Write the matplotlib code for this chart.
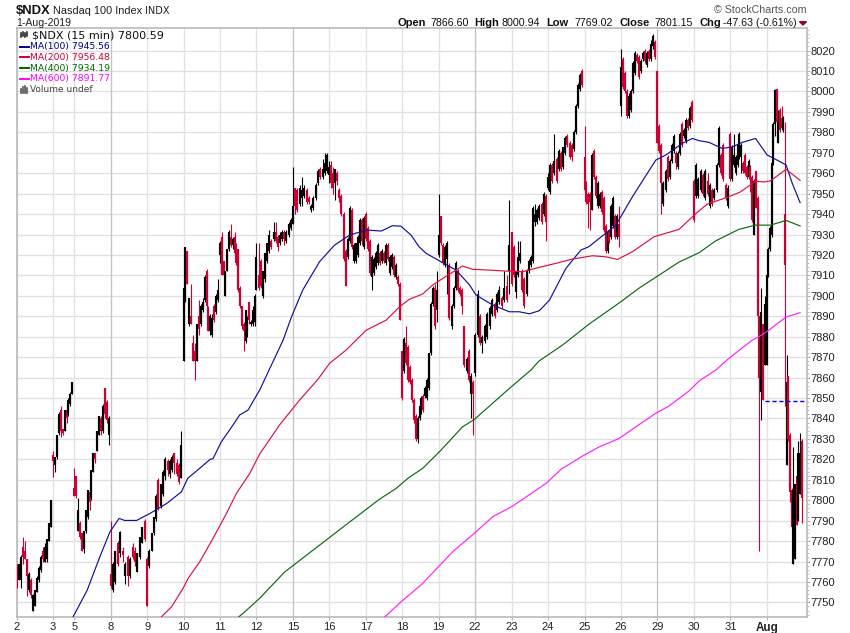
import numpy as np
import matplotlib
matplotlib.use("Agg")
import matplotlib.pyplot as plt
from matplotlib.lines import Line2D
from matplotlib.patches import Polygon
from matplotlib.ticker import MultipleLocator

plt.rcParams['font.family'] = ['Liberation Sans', 'DejaVu Sans']

# 15 min candles, (open, high, low, close) per session
jul02 = [(7767,7769,7757,7761),(7761,7769,7761,7769),(7761,7773,7757,7772),(7777,7782,7769,7772),
         (7775,7780,7771,7771),(7771,7771,7753,7763),(7756,7765,7755,7764),(7761,7762,7752,7753.5),
         (7746,7754,7746,7753.5),(7748,7756,7748,7756),(7755,7763,7755,7762),(7761,7768,7760,7767),
         (7766,7773,7765,7772),(7775,7777,7770,7771),(7770,7779,7770,7777),(7771,7781,7770,7781),
         (7780,7789,7780,7789),(7787,7800,7787,7800)]
jul03 = [(7822,7824,7811.5,7819),(7817,7821,7814,7821),(7821,7832,7820,7832),(7833,7843,7832,7842),
         (7844,7846,7831,7834),(7835,7835,7832,7833),(7834,7844,7834,7844),(7844,7845,7838,7840),
         (7842,7850,7841,7849),(7847,7853,7846,7852),(7852,7858,7852,7858)]
jul05 = [(7806,7816,7802,7802),(7812,7812,7801,7802),(7785,7801,7785,7795),(7789,7790,7781,7782),
         (7784,7784,7775,7775),(7776,7785,7774,7785),(7785,7795,7784,7795),(7792,7805,7791,7805),
         (7804,7805,7795,7799),(7801,7815,7800,7815),(7814,7823,7814,7823),(7823,7823,7818,7820),
         (7824,7834,7824,7834),(7832,7841,7832,7841),(7840,7841,7832,7834),(7834,7847,7833,7846),
         (7855,7855,7840,7842),(7848,7849,7838,7839),(7832,7841,7827,7840)]
jul08 = [(7764,7790,7757,7758),(7756,7770,7755,7769),(7760,7775,7759,7775),(7779,7780,7768,7769),
         (7774,7785,7772,7784.5),(7775,7777,7770,7773),(7763,7770,7759,7769),(7772,7773,7758,7763),
         (7763,7772,7762,7771),(7777,7779,7771,7772),(7775,7777,7768,7770),(7765,7774,7765,7774),
         (7772,7782,7771,7782),(7779,7787,7779,7787),(7790,7791,7780,7781)]
jul09 = [(7771,7772,7748,7748),(7768,7776,7767,7775),(7775,7784,7775,7784),(7784,7792,7783,7792),
         (7791,7803,7790,7802),(7810,7811,7795,7796),(7797,7808,7796,7808),(7803,7815,7802,7814),
         (7812,7821,7810,7820),(7819,7820,7812,7815),(7813,7820,7811,7819),(7815,7822,7814,7821),
         (7823,7823,7813,7818),(7818,7820,7812,7813),(7817,7818,7808,7809),(7811,7834,7811,7827)]
jul10 = [(7868,7904,7868,7904),(7897,7924,7897,7924),(7922,7922,7906,7906),(7886,7899,7885,7899),
         (7890,7906,7886,7886),(7877,7881,7868,7868),(7873,7877,7859,7868),(7868,7886,7868,7886),
         (7890,7898,7881,7884),(7886,7896,7885,7895),(7893,7899,7892,7897),(7898,7910,7897,7909),
         (7912,7913,7894,7895),(7894,7895,7883,7883),(7883,7891,7881,7890),(7881,7891,7880,7889),
         (7895,7896,7887,7888),(7892,7901,7891,7900),(7898,7908,7897,7903)]
jul11 = [(7920,7927,7916,7926),(7929,7931,7910,7910),(7917,7917,7909,7910),(7900,7912,7900,7912),
         (7912,7923,7912,7923),(7923,7932,7922,7931),(7929,7935,7924,7925),(7925,7929,7923,7928),
         (7929,7931,7920,7921),(7921,7926,7915,7916),(7923,7923,7902,7903),(7904,7905,7894,7895),
         (7895,7895,7884,7885),(7886,7887,7873,7883),(7878,7893,7877,7893),(7882,7890,7880,7889),
         (7897,7897,7886,7888),(7886,7888,7885,7887),(7886,7895,7885,7893),(7887,7901,7885,7900)]
jul12 = [(7903,7926,7903,7919),(7910,7926,7903,7904),(7917,7918,7904,7905),(7900,7912,7899,7912),
         (7908,7921,7907,7921),(7917,7926,7916,7926),(7922,7932,7921,7930),(7927,7928,7923,7924),
         (7928,7936,7927,7931),(7931,7936,7926,7927),(7929,7930,7922,7924),(7926,7931,7925,7930),
         (7928,7932,7927,7931),(7931,7932,7925,7928),(7927,7932,7926,7931),(7930,7936,7929,7935),
         (7933,7938,7932,7937)]
jul15 = [(7935,7963,7935,7944),(7953,7953,7940,7944),(7952,7953,7941,7942),(7945,7954,7944,7953),
         (7948,7958,7944,7952),(7949,7954,7948,7953),(7952,7953,7945,7946),(7948,7949,7945,7946),
         (7942,7945,7941,7944),(7943,7949,7942,7948),(7948,7955,7947,7954),(7955,7962,7954,7961),
         (7962,7963,7957,7958),(7958,7967,7957,7962),(7960,7970,7959,7965),(7961,7970,7960,7969)]
jul16 = [(7959,7966,7955,7963),(7964,7966,7953,7955),(7960,7963,7950,7953),(7955,7962,7947,7962),
         (7960,7961,7954,7956),(7952,7953,7946,7948),(7949,7950,7939,7940),(7940,7941,7917,7918),
         (7922,7923,7905,7905),(7919,7929,7918,7928),(7927,7944,7926,7943),(7942,7943,7923,7924),
         (7917,7926,7916,7925),(7917,7926,7916,7926),(7920,7930,7919,7929),(7926,7938,7925,7937),
         (7937,7938,7925,7927),(7924,7939,7923,7938)]
jul17 = [(7940,7941,7927,7928),(7933,7934,7922,7923),(7927,7928,7910,7911),(7909,7920,7903,7919),
         (7911,7919,7910,7918),(7914,7922,7913,7921),(7916,7926,7915,7925),(7921,7922,7915,7916),
         (7917,7923,7916,7922),(7921,7922,7916,7917),(7916,7926,7915,7925),(7925,7926,7917,7918),
         (7911,7920,7910,7919),(7914,7921,7913,7920),(7919,7920,7909,7910),(7909,7916,7908,7915),
         (7909,7910,7905,7906),(7906,7907,7888,7888)]
jul18 = [(7873,7873,7849,7850),(7863,7880,7862,7879),(7877,7885,7866,7867),(7875,7876,7858,7859),
         (7865,7866,7857,7858),(7859,7860,7848,7849),(7849,7850,7838,7839),(7841,7842,7829,7830),
         (7830,7841,7828,7840),(7840,7847,7839,7846),(7843,7851,7842,7850),(7851,7852,7843,7844),
         (7851,7856,7850,7855),(7850,7860,7849,7859),(7855,7872,7854,7872),(7872,7897,7871,7896),
         (7896,7905,7895,7904),(7904,7906,7884,7885),(7893,7912,7887,7903)]
jul19 = [(7920,7950,7919,7930),(7939,7939,7925,7926),(7925,7926,7915,7916),(7915,7925,7914,7924),
         (7918,7927,7901,7926),(7915,7916,7888,7889),(7885,7896,7884,7895),(7895,7905,7894,7904),
         (7904,7917,7903,7916),(7912,7913,7902,7903),(7904,7905,7900,7901),(7903,7904,7891,7895),
         (7885,7885,7865,7866),(7863,7870,7862,7869),(7873,7874,7858,7859),(7852,7862,7840,7861),
         (7858,7859,7832,7852)]
jul22 = [(7862,7882,7861,7881),(7881,7903,7880,7901),(7890,7891,7876,7877),(7877,7881,7872,7880),
         (7878,7886,7877,7885),(7880,7892,7879,7891),(7885,7895,7884,7894),(7891,7899,7890,7898),
         (7896,7897,7889,7890),(7893,7902,7892,7901),(7897,7905,7896,7903),(7899,7900,7894,7895),
         (7898,7912,7897,7904),(7905,7910,7897,7898),(7912,7947,7901,7925)]
jul23 = [(7931,7931,7905,7906),(7924,7925,7909,7910),(7902,7912,7899,7912),(7910,7927,7909,7919),
         (7917,7927,7916,7921),(7912,7913,7902,7903),(7908,7909,7894,7895),(7901,7913,7900,7912),
         (7912,7918,7911,7917),(7915,7920,7914,7919),(7917,7944,7916,7943),(7936,7945,7934,7940),
         (7936,7943,7935,7942),(7938,7945,7937,7944),(7945,7946,7935,7936),(7940,7951,7939,7950),
         (7949,7950,7927,7936)]
jul24 = [(7953,7960,7952,7958),(7951,7965,7950,7964),(7964,7965,7955,7956),(7960,7979,7959,7966),
         (7967,7968,7955,7956),(7962,7972,7961,7971),(7970,7971,7961,7962),(7963,7973,7962,7973),
         (7970,7978,7969,7977),(7978,7979,7973,7974),(7975,7976,7967,7968),(7974,7975,7966,7968),
         (7972,7981,7971,7980),(7980,7994,7979,7993),(7993,8004,7992,8003),(8001,8009,8000,8008),
         (8010,8011,8002,8003)]
jul25 = [(7968,7983,7951,7952),(7955,7956,7945,7946),(7950,7951,7933,7945),(7950,7951,7932,7946),
         (7942,7970,7942,7969),(7971,7972,7957,7958),(7958,7959,7948,7949),(7944,7956,7943,7955),
         (7944,7951,7943,7950),(7951,7952,7940,7941),(7948,7949,7931,7932),(7934,7935,7921,7922),
         (7922,7932,7921,7931),(7931,7932,7926,7927),(7929,7945,7928,7944),(7934,7949,7933,7948),
         (7939,7940,7928,7929),(7929,7940,7928,7939),(7935,7944,7924,7929)]
jul26 = [(7993,8021,7988,8012),(8016,8017,8001,8002),(8009,8010,7999,8000),(8000,8001,7987,7988),
         (7988,7999,7987,7998),(7991,8001,7990,8000),(8000,8015,7999,8014),(8009,8020,8008,8019),
         (8018,8019,8014,8015),(8017,8018,8006,8007),(8010,8016,8009,8015),(8016,8020,8015,8019),
         (8020,8021,8014,8015),(8013,8020,8012,8019),(8020,8021,8015,8016),(8016,8025,8015,8023),
         (8022,8028,8021,8027),(8024,8025,8016,8017)]
jul29 = [(8010,8010,7975,7975),(7983,7984,7970,7971),(7974,7975,7940,7955),(7945,7956,7944,7955),
         (7952,7962,7951,7961),(7968,7969,7956,7957),(7958,7967,7957,7966),(7966,7975,7965,7974),
         (7971,7979,7970,7978),(7970,7971,7962,7965),(7963,7971,7962,7970),(7970,7980,7969,7979),
         (7984,7985,7973,7974),(7978,7982,7977,7981),(7976,7987,7975,7986),(7986,7987,7981,7982),
         (7983,7993,7982,7992),(7995,7996,7985,7986)]
jul30 = [(7956,7957,7936,7937),(7949,7965,7948,7964),(7949,7958,7948,7957),(7952,7962,7951,7961),
         (7959,7960,7949,7950),(7948,7962,7947,7961),(7956,7960,7949,7950),(7944,7955,7943,7954),
         (7952,7953,7944,7945),(7948,7953,7947,7952),(7952,7965,7951,7964),(7964,7983,7963,7982),
         (7969,7970,7959,7960),(7974,7975,7956,7957),(7954,7955,7947,7948),(7944,7954,7943,7953)]
jul31 = [(7979,7980,7956,7957),(7957,7974,7956,7973),(7964,7979,7963,7969),(7960,7969,7959,7968),
         (7964,7975,7963,7974),(7968,7980,7967,7979),(7968,7975,7960,7974),(7965,7966,7960,7961),
         (7969,7970,7959,7960),(7963,7964,7957,7958),(7958,7967,7957,7966),(7963,7964,7951,7957),
         (7958,7959,7936,7937),(7930,7957,7930,7956),(7961,7961,7943,7943),(7948,7949,7889,7890),
         (7890,7890,7775,7860),(7853,7904,7839,7892),(7886,7886,7849,7849),(7866,7900,7866,7896)]
aug01 = [(7866,7911,7866,7910),(7910,7924,7909,7923),(7923,7934,7922,7933),(7930,7966,7929,7965),
         (7965,7985,7964,7984),(7984,8001,7978,8000.5),(8001,8001,7984,7985),(7975,7991,7975,7985),
         (7991,7992,7980,7981),(7987,7993,7981,7982),(7981,7988,7980,7987),(7940,7985,7846,7915),
         (7817,7871,7817,7858),(7861,7861,7829,7830),(7832,7833,7799,7804),(7805,7806,7787,7787),
         (7769,7826,7769,7805),(7771,7808,7771,7808),(7812,7812,7788,7788),(7790,7829,7790,7823),
         (7803,7833,7803,7823),(7829,7830,7789,7801)]

sessions = [jul02, jul03, jul05, jul08, jul09, jul10, jul11, jul12, jul15, jul16, jul17,
            jul18, jul19, jul22, jul23, jul24, jul25, jul26, jul29, jul30, jul31, aug01]
session_bars = [26, 15] + [26] * 20
day_labels = ['2', '3', '5', '8', '9', '10', '11', '12', '15', '16', '17', '18', '19',
              '22', '23', '24', '25', '26', '29', '30', '31', 'Aug']
week_starts = ['8', '15', '22', '29']
price_ticks = list(range(7750, 8021, 10))

# moving averages, bar number and value
ma100_bars = [40.3,50.3,59.3,66.5,73,77,85.5,95,107,117.5,122,130.5,138,140,146,154.3,159,165,173.3,177,
              190,196,204,216,226.7,237.4,249.3,260,268,274,281.3,287,292,301.5,313.4,323,327.6,339.5,
              351.4,358.5,365.7,372.7,380,391.7,402.4,408,415.5,427.4,439.2,455.8,463,474.8,482,486.7,
              493.8,503.3,510.4,517.5,527,535.3,542.4,548.8,553.2,558.8]
ma100_vals = [7743,7756,7772.3,7784.5,7791.1,7790.1,7790.1,7793.5,7798.4,7804.1,7810.7,7815.6,7820,7820.3,
              7828.6,7836.8,7841.7,7844.1,7853.9,7859.3,7878.3,7889.7,7902.8,7916.7,7924.8,7929.7,7932.2,
              7931.7,7934.3,7934.1,7929.7,7924,7920.8,7917.1,7912.6,7905.3,7900.4,7895.5,7892.2,7892.2,
              7891.2,7892.7,7897.9,7913.4,7922.4,7924,7928.1,7934.6,7948.5,7966.4,7968.9,7974.6,7977,
              7975.9,7975.1,7972.1,7972.9,7975.1,7977,7968.9,7966.4,7964,7955,7945.56]
ma200_bars = [103.3,110.4,118.7,122.2,130.6,140,149.6,156.7,166.2,173.3,187.5,201.8,214.8,223.2,235,249.3,
              263.5,273,280,289.6,296.7,305,313.4,318,325,337,349,360.8,372.7,384.6,396.4,410.7,420.2,
              428.5,439.2,454.6,472.4,482,486.7,492.6,506.8,516.4,527,533,537.7,548.8,558.8]
ma200_vals = [7743,7747.8,7756.9,7761.7,7769.9,7781.3,7793.5,7803.3,7813.1,7822.6,7836.8,7849,7859.1,7867,
              7873.5,7883.2,7888.1,7894.6,7898.3,7900.9,7905.3,7909,7912.6,7914.6,7913,7912.6,7912.1,
              7911.8,7913.9,7915.9,7918,7919.6,7919.1,7917.8,7921.6,7928.9,7932.5,7938.7,7941.6,7944.9,
              7948.2,7950.9,7956.1,7955.7,7956.3,7961.9,7956.48]
ma400_bars = [158.5,161.4,173.3,191,216,237.4,258.8,270.7,279,289.6,301.5,318,326.4,351.4,366.8,372.7,389.3,
              408.3,429.7,444,472.4,486.7,498.6,515,527,537.7,548.8,558.8]
ma400_vals = [7743,7744.6,7752,7764.8,7778,7789.3,7800.5,7805.8,7810.7,7815.6,7823.7,7835.9,7839.5,7854.7,
              7863.7,7868.2,7875.9,7886.2,7896.5,7903.8,7916.5,7921.1,7926.9,7932.5,7934.6,7934.6,7936.9,
              7934.19]
ma600_bars = [262.3,274.2,289.6,300.3,311,326.4,339.5,353.7,377.5,388.2,403.6,415.5,429.7,441.6,455.8,465.3,
              479.6,486.7,498.6,508,524.6,529.4,536.5,548.4,558.8]
ma600_vals = [7742.7,7750.3,7759.3,7767.1,7774.8,7783.8,7791.9,7797.1,7808.2,7815.1,7821.6,7826.1,7830.2,
              7835.9,7842.5,7846.1,7853.5,7858.3,7863.7,7869.4,7878.3,7880,7883.2,7889.5,7891.77]
prev_close = 7848.78

UP = '#000000'
DOWN = '#cc0033'
W, H = 850, 633


def fx(px):
    return px / W


def fy(py):
    return 1 - py / H


fig = plt.figure(figsize=(8.5, 6.33), dpi=100)
ax = fig.add_axes([fx(16.7), fy(616.7), (806.7 - 16.7) / W, (616.7 - 28.3) / H])

starts = np.concatenate([[0], np.cumsum(session_bars)[:-1]])
ax.set_xlim(0, 790 / 1.402)
ax.set_ylim(7743, 8030.9)

# grid
ax.set_axisbelow(True)
for v in price_ticks:
    ax.axhline(v, color='#e0e0e0', lw=0.95, zorder=0.5)
for s, lab in zip(starts, day_labels):
    ax.axvline(s, color='#c4c4c4' if lab in week_starts else '#e2e2e2', lw=0.95, zorder=0.5)

# candles
for s, n, day in zip(starts, session_bars, sessions):
    xs = s + np.arange(len(day)) * n / len(day)
    for x, (o, h, l, c) in zip(xs, day):
        col = UP if c >= o else DOWN
        ax.vlines(x, l, h, color=col, lw=0.8, zorder=3)
        ax.vlines(x, min(o, c), max(o, c), color=col, lw=1.55, zorder=3)

ax.plot(ma100_bars, ma100_vals, color='#101098', lw=0.85, zorder=4)
ax.plot(ma200_bars, ma200_vals, color='#dd1040', lw=0.85, zorder=4)
ax.plot(ma400_bars, ma400_vals, color='#0a6a14', lw=0.85, zorder=4)
ax.plot(ma600_bars, ma600_vals, color='#ff20ff', lw=0.85, zorder=4)
ax.plot([starts[-1] - 1, 562], [prev_close, prev_close], color='#0000ee', lw=1, ls=(0, (3, 2)), zorder=5)

# axes
for sp in ax.spines.values():
    sp.set_color('#b4b4b4')
    sp.set_linewidth(1.1)
ax.yaxis.tick_right()
ax.set_yticks(price_ticks)
ax.set_yticklabels([str(v) for v in price_ticks])
ax.yaxis.set_minor_locator(MultipleLocator(2))
ax.tick_params(axis='y', which='major', length=2, color='#b4b4b4', labelsize=8, pad=1, labelcolor='#222222')
ax.tick_params(axis='y', which='minor', length=1.5, color='#b4b4b4')
ax.set_xticks(starts)
ax.set_xticklabels(day_labels)
ax.tick_params(axis='x', length=2, color='#b4b4b4', labelsize=8, pad=2, labelcolor='#222222')
ax.get_xticklabels()[-1].set_fontweight('bold')
ax.get_xticklabels()[-1].set_fontsize(8.4)

# header
fig.text(fx(16), fy(13.5), '$NDX', fontsize=9.4, fontweight='bold', color='#111111')
fig.text(fx(53.3), fy(13.5), 'Nasdaq 100 Index', fontsize=7.9, color='#222222')
fig.text(fx(145), fy(13.5), 'INDX', fontsize=7, color='#222222', fontfamily='DejaVu Sans')
fig.text(fx(16.5), fy(26), '1-Aug-2019', fontsize=7.6, color='#222222')
fig.text(fx(807), fy(13), '\u00a9 StockCharts.com', fontsize=7.7, color='#555555', ha='right')

ohlc_labels = [(397.7, 'Open', True), (430, '7866.60', False), (474.7, 'High', True),
               (501.7, '8000.94', False), (546.7, 'Low', True), (574, '7769.02', False),
               (619, 'Close', True), (654, '7801.15', False), (699, 'Chg', True),
               (723.3, '-47.63 (-0.61%)', False)]
for px, txt, bold in ohlc_labels:
    fig.text(fx(px), fy(26), txt, fontsize=8 if bold else 7.7, color='#111111', fontweight='bold' if bold else 'normal')
fig.add_artist(Polygon([(fx(799.5), fy(21.7)), (fx(806.5), fy(21.7)), (fx(803), fy(25))],
                       closed=True, color='#990033', transform=fig.transFigure))

# legend
legend_rows = [(46.5, 'MA(100) 7945.56', '#000090'), (57.3, 'MA(200) 7956.48', '#cc0033'),
               (68.2, 'MA(400) 7934.19', '#006400'), (79, 'MA(600) 7891.77', '#ff00ff')]
for py, txt, col in legend_rows:
    fig.add_artist(Line2D([fx(19.5), fx(29)], [fy(py), fy(py)], color=col, lw=1.4, transform=fig.transFigure, zorder=6))
    fig.text(fx(29.5), fy(py), txt, fontsize=6.7, color=col, va='center', fontfamily='DejaVu Sans', zorder=6)
fig.text(fx(32), fy(35.5), '$NDX (15 min) 7800.59', fontsize=8, color='#111111', va='center',
         fontfamily='DejaVu Sans', zorder=6)
fig.text(fx(29.5), fy(89.8), 'Volume undef', fontsize=6.5, color='#444444', va='center',
         fontfamily='DejaVu Sans', zorder=6)
for px, top, bot in [(20.5, 33, 37), (22.5, 32, 36), (25, 33, 37), (27, 32, 36)]:
    fig.add_artist(Line2D([fx(px), fx(px)], [fy(top), fy(bot)], color='#111111', lw=1.1, transform=fig.transFigure, zorder=6))
for px, top in [(20.5, 89), (22.5, 87), (24.5, 86), (26.5, 88)]:
    fig.add_artist(Line2D([fx(px), fx(px)], [fy(top), fy(93)], color='#555555', lw=1.2, transform=fig.transFigure, zorder=6))

fig.savefig('out.png', dpi=100)
